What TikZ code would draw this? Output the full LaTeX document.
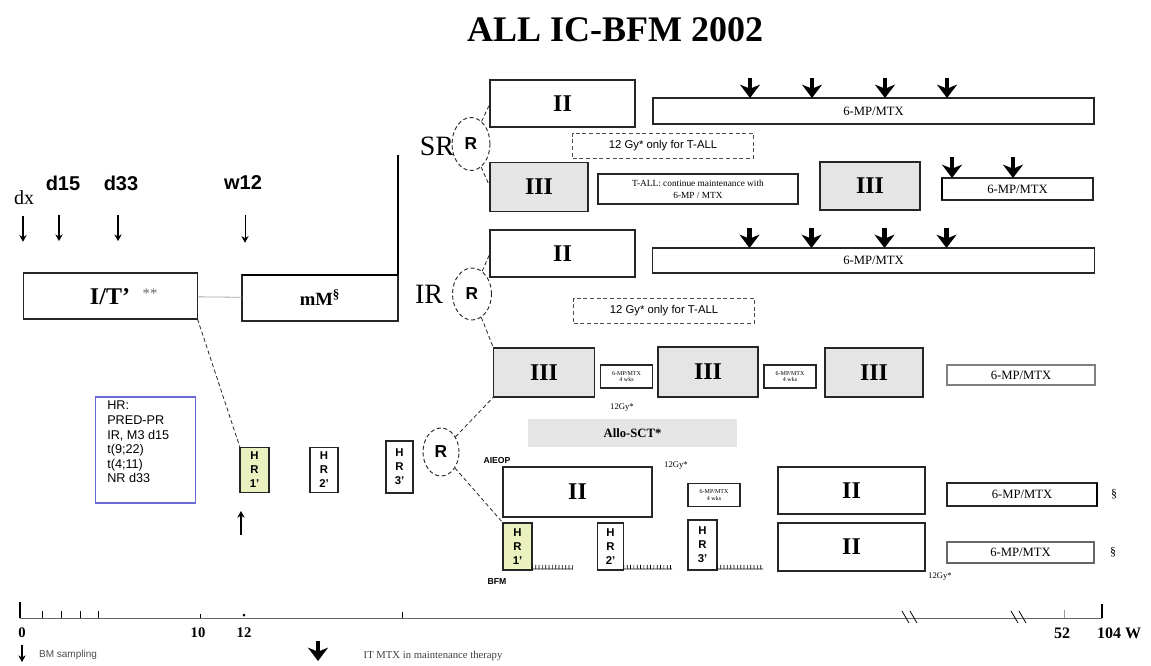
\documentclass[tikz,border=0pt]{standalone}
\usepackage{fontspec}
\setmainfont{Liberation Serif}
\setsansfont{Liberation Sans}
\usetikzlibrary{arrows.meta,positioning,shapes.geometric}

\definecolor{hrgreen}{RGB}{234,241,190}
\definecolor{critblue}{RGB}{105,105,215}

\begin{document}
\begin{tikzpicture}[x=0.75pt, y=-0.75pt,
  sz/.style 2 args={minimum width=#1*0.75pt, minimum height=#2*0.75pt},
  box/.style={draw=black!85, line width=0.9pt, inner sep=0pt, outer sep=0pt},
  blk/.style={box, font=\bfseries\fontsize{18}{18}\selectfont},
  grayblk/.style={blk, fill=black!10},
  bar/.style={box, line width=0.8pt, font=\fontsize{9.5}{10}\selectfont},
  tinybox/.style={box, align=center, font=\fontsize{4.5}{5}\selectfont, sz={52}{23}},
  gynote/.style={draw=black!70, densely dashed, line width=0.6pt, inner sep=0pt, sz={181}{25}, font=\sffamily\fontsize{8.5}{9}\selectfont},
  hrbox/.style={box, align=center, font=\sffamily\bfseries\fontsize{8.5}{10.5}\selectfont},
  rand/.style={ellipse, draw=black!85, densely dashed, line width=0.7pt, inner sep=0pt, font=\sffamily\bfseries\fontsize{13}{13}\selectfont},
  link/.style={densely dashed, line width=0.6pt, black!85},
  tp/.style={font=\sffamily\bfseries\fontsize{15}{15}\selectfont},
  bm/.style={-{Stealth[length=5pt,width=5.5pt]}, line width=0.9pt},
  itarrow/.style={-{Stealth[length=10pt,width=15pt,inset=3pt]}, line width=3.5pt},
  gy/.style={font=\fontsize{6.5}{7}\selectfont},
  ruler/.style={line width=0.5pt},
  rulertick/.style={line width=3pt, dash pattern=on 0.5pt off 2pt},
  axlab/.style={font=\bfseries\fontsize{11}{11}\selectfont},
]
\useasboundingbox (0,0) rectangle (1151,665);

% title
\node[font=\bfseries\fontsize{27}{28}\selectfont] (title) at (615,30) {ALL IC-BFM 2002};

% sampling points
\node[font=\fontsize{15}{15}\selectfont] (dx) at (24,198) {dx};
\node[tp] (d15) at (63,183) {d15};
\node[tp] (d33) at (121,183) {d33};
\node[tp] (w12) at (243,183) {w12};
\draw[bm] (dx.south) ++(-1,6) -- ++(0,26);
\draw[bm] (d15.south) ++(-4,20) -- ++(0,26);
\draw[bm] (d33.south) ++(-3,20) -- ++(0,26);
\draw[bm, line width=0.6pt] (w12.south) ++(2,20) -- ++(0,28);

% induction
\node[box, sz={174}{46}] (it) at (110.5,296) {};
\node[font=\bfseries\fontsize{18}{18}\selectfont] (itlab) at (110,297) {I/T'};
\node[font=\fontsize{11}{11}\selectfont, black!60] (itstar) at (150,294) {**};
\node[blk, sz={156}{46}, font=\bfseries\fontsize{14}{14}\selectfont] (mm) at (320,298) {mM\textsuperscript{§}};
\draw[line width=1.6pt] (mm.north west) -- (mm.north east);
\coordinate (srstem) at (398,155);
\draw[line width=1pt] (mm.north east) -- (srstem);
\draw[black!35, line width=0.6pt] (it) -- (mm);

% SR
\node[font=\fontsize{21}{21}\selectfont] (srlab) at (437,146) {SR};
\node[rand, sz={38}{53}] (rsr) at (471,144) {R};
\node[blk, sz={145}{47}] (sr2) at (562.5,103.5) {II};
\node[bar, sz={441}{26}] (srbar1) at (873.5,111) {6-MP/MTX};
\foreach \d in {97,159,232,294} \draw[itarrow] (srbar1.north west) ++(\d,-20) -- ++(0,20);
\node[gynote] (srgy) at (663,145.5) {12 Gy* only for T-ALL};
\node[grayblk, sz={98}{49}] (sr3a) at (539,187) {III};
\node[box, sz={200}{30}, align=center, font=\fontsize{7}{9}\selectfont] (srnote) at (698,189) {T-ALL: continue maintenance with\\6-MP / MTX};
\node[grayblk, sz={100}{48}] (sr3b) at (870,186) {III};
\node[bar, sz={151}{22}] (srbar2) at (1017.5,189) {6-MP/MTX};
\draw[line width=1.6pt] (srbar2.north west) -- (srbar2.south west);
\foreach \d in {10,71} \draw[itarrow] (srbar2.north west) ++(\d,-21) -- ++(0,21);
\draw[link] (rsr) -- (sr2.west);
\draw[link] (rsr) -- (sr3a.west);

% IR
\node[font=\fontsize{21}{21}\selectfont] (irlab) at (429,294) {IR};
\node[rand, sz={39}{52}] (rir) at (472,294) {R};
\node[blk, sz={145}{47}] (ir2) at (562.5,253.5) {II};
\node[bar, sz={442}{25}] (irbar) at (873.5,260.5) {6-MP/MTX};
\foreach \d in {97,159,232,294} \draw[itarrow] (irbar.north west) ++(\d,-20) -- ++(0,20);
\node[gynote] (irgy) at (664,310.5) {12 Gy* only for T-ALL};
\node[grayblk, sz={101}{49}] (ir3a) at (544,372.5) {III};
\node[tinybox] (irmtx1) at (626.5,376.5) {6-MP/MTX\\4 wks};
\node[grayblk, sz={100}{50}, line width=1.5pt] (ir3b) at (708,372) {III};
\node[tinybox] (irmtx2) at (790,376.5) {6-MP/MTX\\4 wks};
\node[grayblk, sz={98}{49}] (ir3c) at (874,372.5) {III};
\node[bar, sz={148}{20}, draw=black!50] (irbar3) at (1021,375) {6-MP/MTX};
\node[gy] (gy1) at (622,408) {12Gy*};
\node[fill=black!10, sz={209}{28}, inner sep=0pt, font=\bfseries\fontsize{9.5}{10}\selectfont] (allo) at (632.5,433) {Allo-SCT*};
\draw[link] (rir) -- (ir2.west);
\draw[link] (rir) -- (ir3a.north west);

% HR
\node[box, draw=critblue, sz={100}{106}] (crit) at (145.5,450) {};
\node[anchor=north west, align=left, inner sep=0pt, font=\sffamily\fontsize{9.5}{10.9}\selectfont] (crittxt) at (107,401) {HR:\\PRED-PR\\IR, M3 d15\\t(9;22)\\t(4;11)\\NR d33};
\node[hrbox, fill=hrgreen, sz={29}{45}] (hrl1) at (254.5,470) {H\\R\\1'};
\node[hrbox, sz={28}{45}] (hrl2) at (324,470) {H\\R\\2'};
\node[hrbox, sz={27}{52}, line width=1.4pt] (hrl3) at (399.5,467) {H\\R\\3'};
\draw[link] (it.south east) -- (hrl1.north west);
\coordinate (hrup) at (241,535);
\draw[bm] (hrup) -- ++(0,-24);
\node[rand, sz={36}{48}] (rhr) at (441,452) {R};
\draw[link] (rhr) -- (ir3a.south west);
\node[font=\sffamily\bfseries\fontsize{6.5}{7}\selectfont] (aieop) at (497,461) {AIEOP};
\node[blk, sz={149}{50}, line width=1.3pt] (hra2a) at (577.5,492) {II};
\node[gy] (gy2) at (676,466) {12Gy*};
\node[tinybox] (hramtx) at (714,495) {6-MP/MTX\\4 wks};
\node[blk, sz={147}{47}] (hra2b) at (851.5,490.5) {II};
\node[bar, sz={150}{23}] (hrabar) at (1022,494.5) {6-MP/MTX};
\draw[line width=1.8pt] (hrabar.north east) -- (hrabar.south east);
\node[font=\fontsize{9}{9}\selectfont] (sec1) at (1114,494) {§};
\node[hrbox, fill=hrgreen, sz={29}{47}] (hrb1) at (517.5,546.5) {H\\R\\1'};
\node[hrbox, sz={26}{47}] (hrb2) at (610.5,546.5) {H\\R\\2'};
\node[hrbox, sz={29}{50}] (hrb3) at (702.5,545) {H\\R\\3'};
\node[blk, sz={147}{48}] (hrb2b) at (851.5,547) {II};
\node[gy] (gy3) at (940,577) {12Gy*};
\node[bar, sz={147}{21}, draw=black!60] (hrbbar) at (1020.5,552.5) {6-MP/MTX};
\node[font=\fontsize{9}{9}\selectfont] (sec2) at (1113,552) {§};
\node[font=\sffamily\bfseries\fontsize{6.5}{7}\selectfont] (bfm) at (497,582) {BFM};
\draw[link] (rhr) -- (hrb1.north west);
\coordinate (rul1) at (573,569);
\coordinate (rul2) at (672,569);
\coordinate (rul3) at (763,569);
\draw[ruler] ([yshift=0.8pt]hrb1.south east) -- (rul1);
\draw[ruler] ([yshift=0.8pt]hrb2.south east) -- (rul2);
\draw[ruler] ([yshift=0.8pt]hrb3.south east) -- (rul3);
\draw[rulertick] ([yshift=2.3pt]hrb1.south east) -- ([yshift=1.5pt]rul1);
\draw[rulertick] ([yshift=2.3pt]hrb2.south east) -- ([yshift=1.5pt]rul2);
\draw[rulertick] ([yshift=2.3pt]hrb3.south east) -- ([yshift=1.5pt]rul3);

% time axis
\coordinate (ax0) at (20,618);
\coordinate (ax1) at (1102,618);
\draw[black!60, line width=0.6pt] (ax0) -- (ax1);
\draw[line width=1.2pt] (ax0) -- ++(0,-16);
\foreach \x in {42,61,80,98} \draw[line width=0.7pt] (\x,618) -- ++(0,-7);
\draw[line width=0.5pt] (200,618) -- ++(0,-4);
\fill (244,615) circle (1.5);
\draw[line width=0.5pt] (402,618) -- ++(0,-6);
\draw[black!40, line width=0.6pt] (1064,618) -- ++(0,-8);
\draw[line width=0.9pt] (ax1) -- ++(0,-14);
\foreach \x in {902,1011} {
  \draw[line width=0.6pt] (\x,611) -- ++(7,12);
  \draw[line width=0.6pt] (\x+8,611) -- ++(7,12);
}
\node[axlab] (t0) at (22,633) {0};
\node[axlab] (t10) at (198,633) {10};
\node[axlab] (t12) at (244,633) {12};
\node[axlab, font=\bfseries\fontsize{12}{12}\selectfont] (t52) at (1062,633) {52};
\node[axlab, font=\bfseries\fontsize{12}{12}\selectfont] (t104) at (1119,633) {104 W};

% legend
\coordinate (lgbm) at (22,645);
\draw[bm] (lgbm) -- ++(0,17);
\node[font=\sffamily\fontsize{7.5}{8}\selectfont, black!70] (lgbmtxt) at (68,655) {BM sampling};
\coordinate (lgit) at (318,641);
\draw[itarrow] (lgit) -- ++(0,20);
\node[font=\fontsize{8}{8}\selectfont, black!75] (lgittxt) at (433,656) {IT MTX in maintenance therapy};
\end{tikzpicture}
\end{document}
